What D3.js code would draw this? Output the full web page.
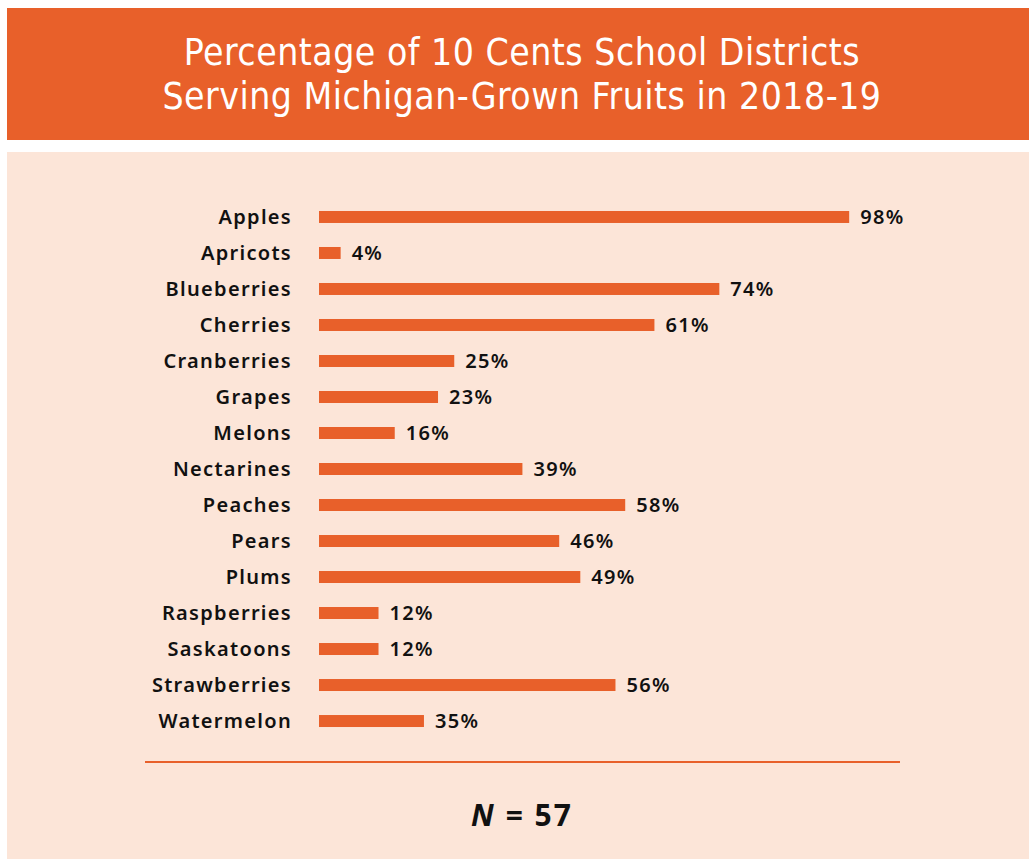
<!DOCTYPE html>
<html>
<head>
<meta charset="utf-8">
<script src="https://cdn.jsdelivr.net/npm/d3@7"></script>
<style>
  html, body { margin: 0; padding: 0; background: #ffffff; }
  #chart { width: 1029px; height: 859px; }
  .title { font-family: 'Liberation Sans Narrow', 'DejaVu Sans Condensed', sans-serif; fill: #ffffff; }
  .cat { font-family: 'Noto Sans', sans-serif; font-weight: 600; font-size: 20px; fill: #111111; }
  .val { font-family: 'Noto Sans', sans-serif; font-weight: 600; font-size: 20px; fill: #111111; }
</style>
</head>
<body>
<div id="chart"></div>
<script>
const fruits = ['Apples', 'Apricots', 'Blueberries', 'Cherries', 'Cranberries', 'Grapes',
  'Melons', 'Nectarines', 'Peaches', 'Pears', 'Plums', 'Raspberries', 'Saskatoons',
  'Strawberries', 'Watermelon'];
// printed percentages
const pctLabels = [98, 4, 74, 61, 25, 23, 16, 39, 58, 46, 49, 12, 12, 56, 35];
// bar lengths as drawn in the picture (in % units)
const barValues = [98, 4, 74, 62, 25, 22, 14, 37.6, 56.6, 44.4, 48.3, 11, 11, 54.8, 19.4];
const titleLines = ['Percentage of 10 Cents School Districts', 'Serving Michigan-Grown Fruits in 2018-19'];
const footNote = '57';

const orange = '#e8602a';
const peach = '#fce5d8';

const svg = d3.select('#chart')
  .append('svg')
  .attr('width', 1029)
  .attr('height', 859);

// header band
svg.append('rect')
  .attr('x', 7).attr('y', 8)
  .attr('width', 1022).attr('height', 132)
  .attr('fill', orange);

svg.selectAll('text.title')
  .data(titleLines)
  .enter()
  .append('text')
  .attr('class', 'title')
  .attr('x', 522)
  .attr('y', (d, i) => 65 + i * 44)
  .attr('text-anchor', 'middle')
  .style('font-size', '37px')
  .style('letter-spacing', '0.5px')
  .text((d) => d);

// body panel
svg.append('rect')
  .attr('x', 7).attr('y', 152)
  .attr('width', 1022).attr('height', 707)
  .attr('fill', peach);

const x = d3.scaleLinear().domain([0, 100]).range([319, 860]);
const y = d3.scaleBand()
  .domain(fruits)
  .range([199, 739])
  .paddingInner(0.667)
  .paddingOuter(0.333);

const rows = svg.append('g')
  .selectAll('g')
  .data(fruits)
  .enter()
  .append('g');

rows.append('rect')
  .attr('x', x(0))
  .attr('y', (d) => y(d))
  .attr('width', (d, i) => x(barValues[i]) - x(0))
  .attr('height', y.bandwidth())
  .attr('fill', orange);

rows.append('text')
  .attr('class', 'cat')
  .attr('x', 292)
  .attr('y', (d) => y(d) + y.bandwidth() / 2)
  .attr('dy', '0.33em')
  .attr('text-anchor', 'end')
  .style('letter-spacing', '1.3px')
  .text((d) => d);

rows.append('text')
  .attr('class', 'val')
  .attr('x', (d, i) => x(barValues[i]) + 11)
  .attr('y', (d) => y(d) + y.bandwidth() / 2)
  .attr('dy', '0.33em')
  .style('letter-spacing', '1.3px')
  .text((d, i) => pctLabels[i] + '%');

// separator line
svg.append('line')
  .attr('x1', 145).attr('x2', 900)
  .attr('y1', 762).attr('y2', 762)
  .attr('stroke', orange)
  .attr('stroke-width', 2);

const note = svg.append('text')
  .attr('x', 522)
  .attr('y', 826)
  .attr('text-anchor', 'middle')
  .style('font-family', "'Noto Sans', sans-serif")
  .style('font-weight', 700)
  .style('font-size', '30px')
  .style('letter-spacing', '2px')
  .style('fill', '#111111');
note.append('tspan').style('font-style', 'italic').text('N');
note.append('tspan').text(' = ' + footNote);
</script>
</body>
</html>
